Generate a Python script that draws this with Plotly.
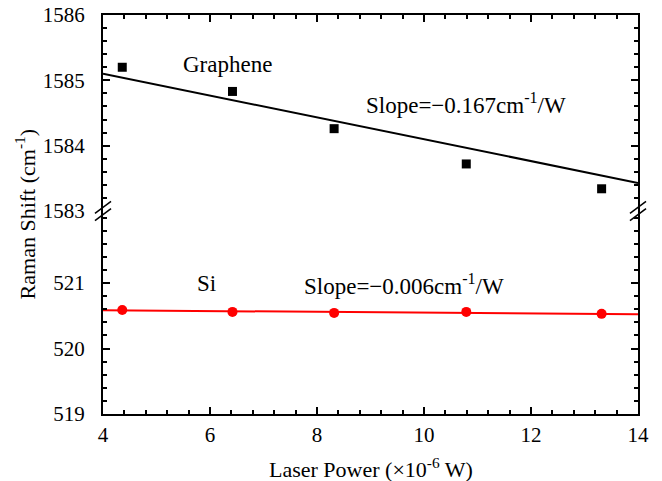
import plotly.graph_objects as go

# Laser power (x10^-6 W)
power = [4.36, 6.42, 8.32, 10.79, 13.32]

# Raman peak positions (cm^-1)
graphene_shift = [1585.20, 1584.83, 1584.26, 1583.72, 1583.34]
si_shift = [520.59, 520.56, 520.545, 520.56, 520.53]

# Linear fits: value at x = 4 and slope (cm^-1 per unit of x)
fit_x = [4, 14]
graphene_fit = {"y0": 1585.10, "slope": -0.167}
si_fit = {"y0": 520.585, "slope": -0.006}

FONT = "Liberation Serif"
BREAK = 0.5088  # split between the two y panels (paper units)


def fit_line(p):
    return [p["y0"] + p["slope"] * (x - fit_x[0]) for x in fit_x]


fig = go.Figure()

# Graphene G-peak panel (top)
fig.add_trace(go.Scatter(x=fit_x, y=fit_line(graphene_fit), mode="lines",
                         line=dict(color="black", width=2),
                         xaxis="x2", yaxis="y2", showlegend=False))
fig.add_trace(go.Scatter(x=power, y=graphene_shift, mode="markers",
                         marker=dict(symbol="square", size=9, color="black"),
                         xaxis="x2", yaxis="y2", showlegend=False))

# Si peak panel (bottom)
fig.add_trace(go.Scatter(x=fit_x, y=fit_line(si_fit), mode="lines",
                         line=dict(color="#ff0000", width=2),
                         xaxis="x", yaxis="y", showlegend=False))
fig.add_trace(go.Scatter(x=power, y=si_shift, mode="markers",
                         marker=dict(symbol="circle", size=10, color="#ff0000"),
                         xaxis="x", yaxis="y", showlegend=False))

tickfont = dict(family=FONT, size=21, color="black")
common = dict(showline=True, linecolor="black", linewidth=2, ticks="inside",
              ticklen=7, tickwidth=1.5, tickcolor="black", showgrid=False,
              zeroline=False, automargin=False, tickfont=tickfont)
minor_x = dict(ticks="inside", ticklen=4, tickwidth=1.5, tickcolor="black",
               dtick=0.4, showgrid=False)
minor_y = dict(ticks="inside", ticklen=4, tickwidth=1.5, tickcolor="black",
               dtick=0.2, showgrid=False)

fig.update_layout(
    width=662, height=481,
    margin=dict(l=103, r=24, t=15, b=67),
    paper_bgcolor="white", plot_bgcolor="white",
    font=dict(family=FONT, color="black"),
    xaxis=dict(range=[4, 14], tickvals=[4, 6, 8, 10, 12, 14], anchor="y",
               side="bottom", mirror=False, minor=minor_x,
               ticklabelstandoff=1, **common),
    xaxis2=dict(range=[4, 14], tickvals=[4, 6, 8, 10, 12, 14], anchor="y2",
                side="top", overlaying="x", matches="x", mirror=False,
                showticklabels=False, minor=minor_x, **common),
    yaxis=dict(range=[519, 519 + BREAK * 399 / 65.45], tickvals=[519, 520, 521],
               domain=[0, BREAK], anchor="x", mirror="ticks", minor=minor_y,
               ticklabelstandoff=12, **common),
    yaxis2=dict(range=[1583, 1586], tickvals=[1583, 1584, 1585, 1586],
                domain=[BREAK, 1], anchor="x2", mirror="ticks", minor=minor_y,
                ticklabelstandoff=12, **common),
)

textfont = dict(family=FONT, size=23, color="black")
labels = [
    (6.33, 1585.25, "x2", "y2", "Graphene"),
    (10.79, 1584.64, "x2", "y2", "Slope=\u22120.167cm<sup>-1</sup>/W"),
    (5.94, 520.99, "x", "y", "Si"),
    (9.62, 520.98, "x", "y", "Slope=\u22120.006cm<sup>-1</sup>/W"),
]
for x, y, xr, yr, txt in labels:
    fig.add_annotation(x=x, y=y, xref=xr, yref=yr, text=txt, showarrow=False,
                       xanchor="center", yanchor="middle", font=textfont)

# Axis titles
fig.add_annotation(x=0.5, y=-0.135, xref="paper", yref="paper",
                   text="Laser Power (\u00d710<sup>-6</sup> W)", showarrow=False,
                   xanchor="center", yanchor="middle",
                   font=dict(family=FONT, size=22, color="black"))
fig.add_annotation(x=-0.146, y=0.5, xref="paper", yref="paper",
                   text="Raman Shift (cm<sup>-1</sup>)", textangle=-90,
                   showarrow=False, xanchor="center", yanchor="middle",
                   font=dict(family=FONT, size=22, color="black"))

# Axis-break marks on the left and right spines
for xp in (0.0, 1.0):
    for dy in (-0.009, 0.009):
        fig.add_shape(type="line", xref="paper", yref="paper",
                      x0=xp - 0.015, y0=BREAK + dy - 0.015,
                      x1=xp + 0.015, y1=BREAK + dy + 0.015,
                      line=dict(color="black", width=1.5))

fig.write_html("out.html")
